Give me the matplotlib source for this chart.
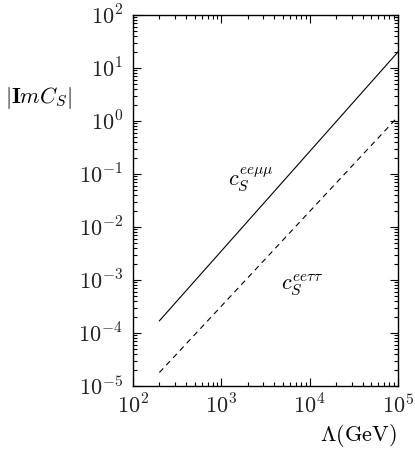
import math
import matplotlib
matplotlib.use("Agg")
import matplotlib.pyplot as plt
from matplotlib.ticker import LogLocator, FuncFormatter, NullFormatter

plt.rcParams['mathtext.fontset'] = 'cm'
plt.rcParams['font.family'] = 'serif'
plt.rcParams['font.serif'] = ['DejaVu Serif']

lam = [200, 1e5]
c_mumu = [1.7e-4, 20]
c_tautau = [1.8e-5, 1.2]

fig = plt.figure(figsize=(4.15, 4.51), dpi=100)
ax = fig.add_axes([0.320, 0.144, 0.639, 0.823])
ax.plot(lam, c_mumu, color='black', lw=0.8)
ax.plot(lam, c_tautau, color='black', lw=0.8, ls=(0, (5, 4)))
ax.set_xscale('log')
ax.set_yscale('log')
ax.set_xlim(1e2, 1e5)
ax.set_ylim(1e-5, 1e2)
fmt = FuncFormatter(lambda v, p: r'$10^{%d}$' % round(math.log10(v)))
for axis in (ax.xaxis, ax.yaxis):
    axis.set_major_locator(LogLocator(base=10, numticks=20))
    axis.set_minor_locator(LogLocator(base=10, subs=range(2, 10), numticks=20))
    axis.set_major_formatter(fmt)
    axis.set_minor_formatter(NullFormatter())
ax.tick_params(which='both', direction='in', top=True, right=True, labelsize=16, width=0.8,
               labelcolor='#222222')
ax.tick_params(which='major', length=6)
ax.tick_params(axis='x', which='major', pad=6)
ax.tick_params(axis='y', which='major', pad=7)
ax.tick_params(which='minor', length=3)
for s in ax.spines.values():
    s.set_linewidth(1.0)
ax.text(1200, 0.08, r'$c_S^{ee\mu\mu}$', fontsize=16, ha='left', va='center')
ax.text(4800, 8e-4, r'$c_S^{ee\tau\tau}$', fontsize=16, ha='left', va='center')
fig.text(0.012, 0.782, r'$|\mathbf{I}m C_S|$', fontsize=16, ha='left', va='center')
fig.text(0.955, 0.035, r'$\Lambda(\mathrm{GeV})$', fontsize=16, ha='right', va='center')
fig.savefig('out.png', dpi=100)
